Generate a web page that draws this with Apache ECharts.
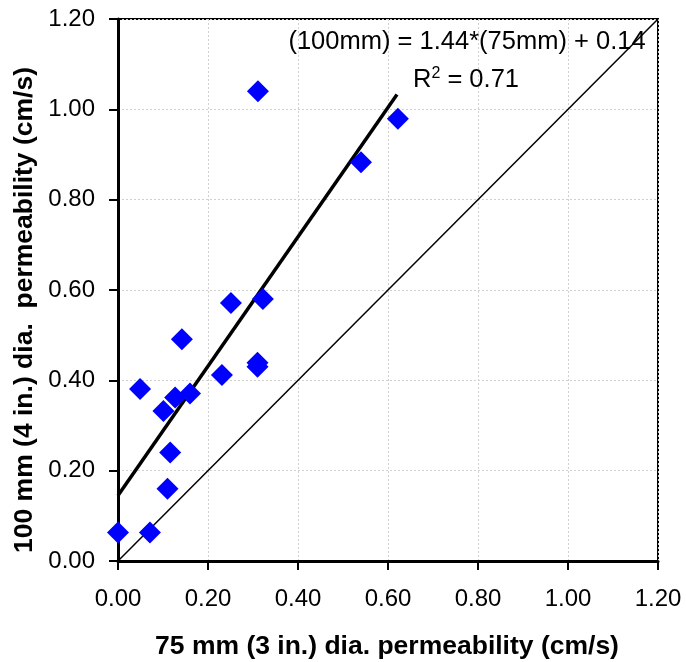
<!DOCTYPE html>
<html>
<head>
<meta charset="utf-8">
<script src="https://cdn.jsdelivr.net/npm/echarts@6/dist/echarts.min.js"></script>
<style>html,body{margin:0;padding:0;background:#fff;}#c{width:686px;height:662px;}</style>
</head>
<body>
<div id="c"></div>
<script>
// 75 mm (x) vs 100 mm (y) permeability, cm/s
const xValues = [0.00, 0.071, 0.110, 0.116, 0.049, 0.101, 0.127, 0.160, 0.142, 0.231, 0.310, 0.310, 0.251, 0.322, 0.540, 0.622, 0.311];
const yValues = [0.063, 0.063, 0.160, 0.240, 0.381, 0.332, 0.362, 0.371, 0.491, 0.412, 0.439, 0.430, 0.571, 0.580, 0.883, 0.979, 1.040];
const trendX = [0.00, 0.62];
const trendY = [0.145, 1.033];
const equalityX = [0.00, 1.20];
const equalityY = [0.00, 1.20];
const tickLabels = ['0.00', '0.20', '0.40', '0.60', '0.80', '1.00', '1.20'];
const xTitle = '75 mm (3 in.) dia. permeability (cm/s)';
const yTitle = '100 mm (4 in.) dia.  permeability (cm/s)';
const eqText = '(100mm) = 1.44*(75mm) + 0.14';

const pts = xValues.map((x, i) => [x, yValues[i]]);
const trend = trendX.map((x, i) => [x, trendY[i]]);
const equality = equalityX.map((x, i) => [x, equalityY[i]]);
const fmt = v => tickLabels[Math.round(v / 0.2)] || v.toFixed(2);
const FONT = 'Liberation Sans, Arial, sans-serif';

const axisCommon = {
  type: 'value', min: 0, max: 1.2, interval: 0.2,
  axisLine: { show: true, onZero: false, lineStyle: { color: '#000', width: 3 } },
  axisTick: { show: true, inside: false, length: 9, lineStyle: { color: '#000', width: 2 } },
  splitLine: { show: true, lineStyle: { color: '#d0d0d0', type: [2, 2], width: 1 } }
};

const chart = echarts.init(document.getElementById('c'), null, { renderer: 'canvas' });
chart.setOption({
  animation: false,
  backgroundColor: '#fff',
  grid: { left: 118, right: 28, top: 19, bottom: 101, show: true, borderColor: '#000', borderWidth: 2, backgroundColor: 'transparent' },
  xAxis: Object.assign({}, axisCommon, {
    axisLabel: { formatter: fmt, fontFamily: FONT, fontSize: 24, color: '#000', margin: 26 }
  }),
  yAxis: Object.assign({}, axisCommon, {
    axisLabel: { formatter: fmt, fontFamily: FONT, fontSize: 24, color: '#000', margin: 23 }
  }),
  graphic: [
    { type: 'text', silent: true, z: 100, x: 387, y: 647,
      style: { text: xTitle, fontFamily: FONT, fontWeight: 'bold', fontSize: 26.5, fill: '#000', align: 'center', verticalAlign: 'middle' } },
    { type: 'text', silent: true, z: 100, x: 25, y: 310, rotation: Math.PI / 2,
      style: { text: yTitle, fontFamily: FONT, fontWeight: 'bold', fontSize: 26.5, fill: '#000', align: 'center', verticalAlign: 'middle' } },
    { type: 'text', silent: true, z: 100, x: 467, y: 42,
      style: { text: eqText, fontFamily: FONT, fontSize: 25.5, fill: '#000', align: 'center', verticalAlign: 'middle' } },
    { type: 'text', silent: true, z: 100, x: 466, y: 80,
      style: { text: '{a|R}{s|2}{a| = 0.71}', align: 'center', verticalAlign: 'middle',
        rich: { a: { fontFamily: FONT, fontSize: 25.5, color: '#000' },
                s: { fontFamily: FONT, fontSize: 16, color: '#000', verticalAlign: 'top', padding: [0, 0, 12, 0] } } } }
  ],
  series: [
    { type: 'line', data: equality, symbol: 'none', lineStyle: { color: '#000', width: 1.5 }, z: 2, silent: true },
    { type: 'line', data: trend, symbol: 'none', lineStyle: { color: '#000', width: 3.5 }, z: 3, silent: true },
    { type: 'scatter', data: pts, symbol: 'diamond', symbolSize: [22, 22], itemStyle: { color: '#0000ff', opacity: 1 }, z: 4 }
  ]
});
</script>
</body>
</html>
